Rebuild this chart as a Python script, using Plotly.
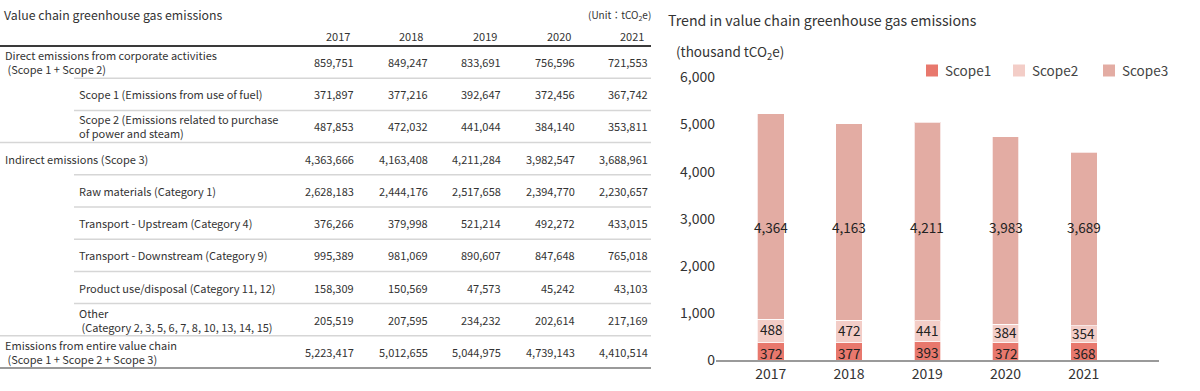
import plotly.graph_objects as go

# ---------------- data ----------------
years = ["2017", "2018", "2019", "2020", "2021"]

row_labels = [
    "Direct emissions from corporate activities<br>\u00a0(Scope 1 + Scope 2)",
    "Scope 1 (Emissions from use of fuel)",
    "Scope 2 (Emissions related to purchase<br>of power and steam)",
    "Indirect emissions (Scope 3)",
    "Raw materials (Category 1)",
    "Transport - Upstream (Category 4)",
    "Transport - Downstream (Category 9)",
    "Product use/disposal (Category 11, 12)",
    "Other<br>\u00a0(Category 2, 3, 5, 6, 7, 8, 10, 13, 14, 15)",
    "Emissions from entire value chain<br>\u00a0(Scope 1 + Scope 2 + Scope 3)",
]
row_indent = [False, True, True, False, True, True, True, True, True, False]

vals_2017 = [859751, 371897, 487853, 4363666, 2628183, 376266, 995389, 158309, 205519, 5223417]
vals_2018 = [849247, 377216, 472032, 4163408, 2444176, 379998, 981069, 150569, 207595, 5012655]
vals_2019 = [833691, 392647, 441044, 4211284, 2517658, 521214, 890607, 47573, 234232, 5044975]
vals_2020 = [756596, 372456, 384140, 3982547, 2394770, 492272, 847648, 45242, 202614, 4739143]
vals_2021 = [721553, 367742, 353811, 3688961, 2230657, 433015, 765018, 43103, 217169, 4410514]
table_cols = [vals_2017, vals_2018, vals_2019, vals_2020, vals_2021]

series_names = ["Scope1", "Scope2", "Scope3"]
scope1 = [372, 377, 393, 372, 368]
scope2 = [488, 472, 441, 384, 354]
scope3 = [4364, 4163, 4211, 3983, 3689]

# ---------------- layout helpers ----------------
W, H = 1200, 391
FONT = "Noto Sans CJK JP, Noto Sans, sans-serif"
TXT = "#333333"


def px(x):
    return x / W


def py(y):
    return 1 - y / H


annotations = []
shapes = []

# table title & unit
annotations.append(dict(x=px(2), y=py(15), xref="paper", yref="paper", xanchor="left", yanchor="middle",
                        text="Value chain greenhouse gas emissions", showarrow=False,
                        font=dict(family=FONT, size=12.3, color=TXT)))
annotations.append(dict(x=px(653), y=py(15), xref="paper", yref="paper", xanchor="right", yanchor="middle",
                        text="(Unit\uff1atCO<sub>2</sub>e)", showarrow=False,
                        font=dict(family=FONT, size=10, color=TXT)))

col_right = [355, 428.5, 502, 575.5, 649]
for k, yr in enumerate(years):
    annotations.append(dict(x=px(col_right[k] - 3), y=py(36), xref="paper", yref="paper",
                            xanchor="right", yanchor="middle", text=yr, showarrow=False,
                            font=dict(family=FONT, size=11, color=TXT)))

top = 46.0
step = 32.2
bounds = [top + step * i for i in range(len(row_labels) + 1)]

shapes.append(dict(type="line", xref="paper", yref="paper", x0=px(0), x1=px(651),
                   y0=py(bounds[0]), y1=py(bounds[0]), line=dict(color="#3a3a3a", width=2)))
for i in range(len(row_labels)):
    c = (bounds[i] + bounds[i + 1]) / 2
    lx = 77 if row_indent[i] else 3
    annotations.append(dict(x=px(lx), y=py(c), xref="paper", yref="paper", xanchor="left",
                            yanchor="middle", align="left", text=row_labels[i], showarrow=False,
                            font=dict(family=FONT, size=11, color=TXT)))
    for k in range(len(years)):
        annotations.append(dict(x=px(col_right[k] + 1), y=py(c), xref="paper", yref="paper",
                                xanchor="right", yanchor="middle", text=f"{table_cols[k][i]:,}",
                                showarrow=False, font=dict(family=FONT, size=11, color=TXT)))
    yb = bounds[i + 1]
    if i < len(row_labels) - 1:
        x0 = 74 if row_indent[i + 1] else 0
        shapes.append(dict(type="line", xref="paper", yref="paper", x0=px(x0), x1=px(651),
                           y0=py(yb), y1=py(yb), line=dict(color="#d6d6d6", width=1.5)))
    else:
        shapes.append(dict(type="line", xref="paper", yref="paper", x0=px(0), x1=px(651),
                           y0=py(yb), y1=py(yb), line=dict(color="#9a9a9a", width=2)))

# chart title & unit
annotations.append(dict(x=px(666), y=py(20), xref="paper", yref="paper", xanchor="left", yanchor="middle",
                        text="Trend in value chain greenhouse gas emissions", showarrow=False,
                        font=dict(family=FONT, size=14.2, color=TXT)))
annotations.append(dict(x=px(674), y=py(52), xref="paper", yref="paper", xanchor="left", yanchor="middle",
                        text="(thousand tCO<sub>2</sub>e)", showarrow=False,
                        font=dict(family=FONT, size=13.5, color=TXT)))

# ---------------- bars ----------------
colors = ["#E8786D", "#F3CDC7", "#E3ACA3"]
fig = go.Figure()
for name, vals, col in zip(series_names, [scope1, scope2, scope3], colors):
    fig.add_trace(go.Bar(x=years, y=vals, name=name, showlegend=False,
                         marker=dict(color=col, line=dict(color="rgba(255,255,255,0.7)", width=1)),
                         hoverinfo="x+y+name"))

# manual legend (squares + text)
legend_left = [926, 1013, 1103]
for name, col, lx in zip(series_names, colors, legend_left):
    shapes.append(dict(type="rect", xref="paper", yref="paper", x0=px(lx), x1=px(lx + 12),
                       y0=py(76.5), y1=py(64.5), fillcolor=col, line=dict(width=0)))
    annotations.append(dict(x=px(lx + 17), y=py(70.5), xref="paper", yref="paper", xanchor="left",
                            yanchor="middle", text=name, showarrow=False,
                            font=dict(family=FONT, size=13.5, color="#444444")))

label_font = dict(family=FONT, size=13.5, color="#222222")
for k in range(len(years)):
    annotations.append(dict(x=k, y=scope1[k] / 2, xref="x", yref="y", text=f"{scope1[k]:,}",
                            showarrow=False, borderpad=0, yshift=-1.5, font=label_font))
    annotations.append(dict(x=k, y=scope1[k] + scope2[k] / 2, xref="x", yref="y", text=f"{scope2[k]:,}",
                            showarrow=False, borderpad=0, yshift=1.5, font=label_font))
    annotations.append(dict(x=k, y=2830, xref="x", yref="y", text=f"{scope3[k]:,}",
                            showarrow=False, borderpad=0, font=label_font))

fig.update_layout(
    width=W, height=H, autosize=False,
    margin=dict(l=0, r=0, t=0, b=0, autoexpand=False),
    paper_bgcolor="white", plot_bgcolor="white",
    barmode="stack", bargap=0.66,
    font=dict(family=FONT, color=TXT),
    showlegend=False,
    xaxis=dict(domain=[px(716), px(1159)], type="category", range=[-0.70, 4.96], automargin=False,
               showline=True, linecolor="#9a9a9a", linewidth=1.5, ticks="", showgrid=False,
               tickfont=dict(family=FONT, size=14, color=TXT), fixedrange=True),
    yaxis=dict(domain=[py(360), py(77.4)], range=[0, 6000], dtick=1000, tickformat=",", automargin=False,
               showline=False, showgrid=False, zeroline=False, ticks="",
               tickfont=dict(family=FONT, size=14, color=TXT), fixedrange=True),
    annotations=annotations,
    shapes=shapes,
)

fig.write_html("out.html", config={"displayModeBar": False},
               post_script="document.body.style.margin='0';document.body.style.overflow='hidden';")
